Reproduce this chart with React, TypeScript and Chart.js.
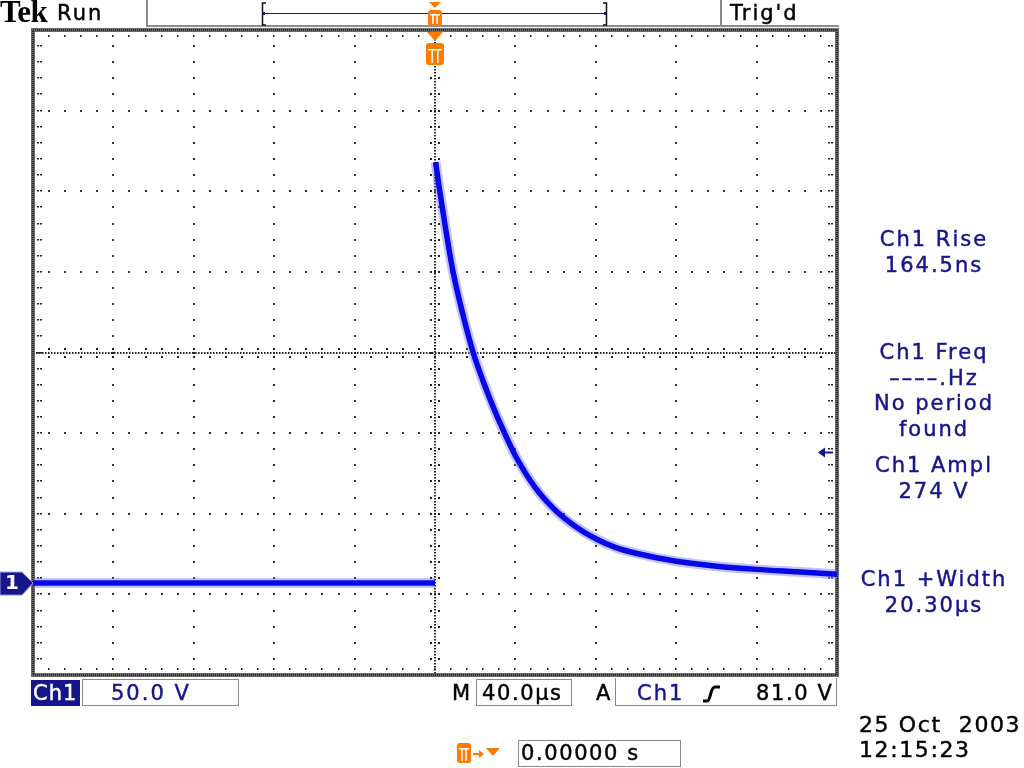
import React, { useEffect, useRef } from "react";
import { Chart, registerables } from "chart.js";

Chart.register(...registerables);

// ---- scope settings ----
const TIME_PER_DIV = 40; // µs / div
const VOLTS_PER_DIV = 50; // V / div
const H_DIVS = 10;
const V_DIVS = 8;
const GROUND_DIV = -2.86; // ground marker, divisions from screen centre
const TRIGGER_LEVEL = 81.0; // V
const TRIGGER_TIME = 0; // µs

// ---- Ch1 trace (read from the screen); null = no samples drawn on the fast edge ----
const timeUs = [-200, -100, 0, 0.15, 0.3, 2, 5, 9, 14, 19, 24, 30, 35, 40, 50, 60, 70, 80, 90, 100, 120, 140, 160, 180, 200];
const ch1Volts: (number | null)[] = [0, 0, 0, null, 261, 246, 222, 193, 166, 143, 125, 106, 92, 79, 59, 45, 35, 27.5, 22, 18.5, 13.5, 10.5, 8.5, 7, 5.5];

// ---- text read-outs ----
const measurements = [
  { top: 227, lines: ["Ch1 Rise", "164.5ns"] },
  { top: 340, lines: ["Ch1 Freq", "––––.Hz", "No period", "found"] },
  { top: 453, lines: ["Ch1 Ampl", "274 V"] },
  { top: 567, lines: ["Ch1 +Width", "20.30µs"] },
];
const statusLeft = "Run";
const statusRight = "Trig'd";
const chScale = "50.0 V";
const timeBase = "40.0µs";
const trigLevelText = "81.0 V";
const trigPosText = "0.00000 s";
const dateText = "25 Oct  2003";
const timeText = "12:15:23";

const NAVY = "#16168c";
const ORANGE = "#ff7a00";
const FONT = '"DejaVu Sans", Verdana, sans-serif';

function drawTMarker(ctx: CanvasRenderingContext2D, cx: number, top: number, triH: number, triW: number, boxW: number, boxH: number) {
  ctx.fillStyle = ORANGE;
  if (triH > 0) {
    ctx.beginPath();
    ctx.moveTo(cx - triW / 2, top);
    ctx.lineTo(cx + triW / 2, top);
    ctx.lineTo(cx, top + triH);
    ctx.closePath();
    ctx.fill();
  }
  const by = top + triH + (triH > 0 ? 2 : 0);
  const bx = cx - boxW / 2;
  const r = 3;
  ctx.beginPath();
  ctx.moveTo(bx + r, by);
  ctx.lineTo(bx + boxW - r, by);
  ctx.quadraticCurveTo(bx + boxW, by, bx + boxW, by + r);
  ctx.lineTo(bx + boxW, by + boxH - r);
  ctx.quadraticCurveTo(bx + boxW, by + boxH, bx + boxW - r, by + boxH);
  ctx.lineTo(bx + r, by + boxH);
  ctx.quadraticCurveTo(bx, by + boxH, bx, by + boxH - r);
  ctx.lineTo(bx, by + r);
  ctx.quadraticCurveTo(bx, by, bx + r, by);
  ctx.fill();
  ctx.fillStyle = "#ffffff";
  const capH = Math.max(3, Math.round(boxH * 0.26));
  ctx.fillRect(bx + 2, by + capH, boxW - 4, 1.5);
  ctx.fillRect(cx - boxW * 0.2, by + capH, 1.5, boxH - capH - 2);
  ctx.fillRect(cx + boxW * 0.2 - 1.5, by + capH, 1.5, boxH - capH - 2);
}

const graticulePlugin = {
  id: "graticule",
  beforeDatasetsDraw(chart: any) {
    const { ctx, chartArea: a } = chart;
    const xs = chart.scales.x;
    const ys = chart.scales.y;
    const xMin = (-H_DIVS / 2) * TIME_PER_DIV;
    const yMin = (-V_DIVS / 2 - GROUND_DIV) * VOLTS_PER_DIV;
    const px = (i: number) => Math.round(xs.getPixelForValue(xMin + (i * TIME_PER_DIV) / 5));
    const py = (j: number) => Math.round(ys.getPixelForValue(yMin + (j * VOLTS_PER_DIV) / 5));
    const NX = H_DIVS * 5;
    const NY = V_DIVS * 5;
    ctx.save();
    ctx.fillStyle = "#333333";
    for (let d = 1; d < H_DIVS; d++) {
      if (d === H_DIVS / 2) continue;
      const x = px(d * 5);
      for (let j = 1; j < NY; j++) ctx.fillRect(x - 1, py(j) - 1, 2, 2);
    }
    for (let d = 1; d < V_DIVS; d++) {
      if (d === V_DIVS / 2) continue;
      const y = py(d * 5);
      for (let i = 1; i < NX; i++) ctx.fillRect(px(i) - 1, y - 1, 2, 2);
    }
    const cx = px(NX / 2);
    const cy = py(NY / 2);
    ctx.fillStyle = "#222222";
    for (let y = a.top; y < a.bottom; y += 3) ctx.fillRect(cx - 1, y, 2, 1.5);
    for (let x = a.left; x < a.right; x += 3) ctx.fillRect(x, cy - 1, 1.5, 2);
    for (let j = 1; j < NY; j++) {
      const y = py(j);
      ctx.fillRect(cx - 5, y - 1, 2, 2);
      ctx.fillRect(cx + 3, y - 1, 2, 2);
    }
    for (let i = 1; i < NX; i++) {
      const x = px(i);
      ctx.fillRect(x - 1, cy - 5, 2, 2);
      ctx.fillRect(x - 1, cy + 3, 2, 2);
    }
    for (let j = 1; j < NY; j++) {
      const y = py(j);
      ctx.fillRect(a.left + 4, y - 1, 2, 1.5);
      ctx.fillRect(a.left + 7, y - 1, 2, 1.5);
      ctx.fillRect(a.right - 6, y - 1, 2, 1.5);
      ctx.fillRect(a.right - 9, y - 1, 2, 1.5);
    }
    for (let i = 1; i < NX; i++) {
      const x = px(i);
      ctx.fillRect(x - 1, a.top + 5, 1.5, 2);
      ctx.fillRect(x - 1, a.bottom - 7, 1.5, 2);
    }
    ctx.strokeStyle = "#6a6a6a";
    ctx.lineWidth = 4;
    ctx.strokeRect(a.left, a.top, a.right - a.left, a.bottom - a.top);
    ctx.strokeStyle = "#1a1a1a";
    ctx.lineWidth = 1.5;
    ctx.setLineDash([1, 1]);
    ctx.strokeRect(a.left, a.top, a.right - a.left, a.bottom - a.top);
    ctx.setLineDash([]);
    ctx.restore();
  },
  afterDraw(chart: any) {
    const { ctx, chartArea: a } = chart;
    const xs = chart.scales.x;
    const ys = chart.scales.y;
    ctx.save();
    ctx.fillStyle = "#8c8c8c";
    ctx.fillRect(146, 0, 2, 27);
    ctx.fillRect(720, 0, 2, 27);
    ctx.fillRect(146, 25, a.right + 2 - 146, 2);
    ctx.strokeStyle = "#111111";
    ctx.lineWidth = 1.5;
    ctx.beginPath();
    ctx.moveTo(266, 3); ctx.lineTo(262.5, 3); ctx.lineTo(262.5, 25); ctx.lineTo(266, 25);
    ctx.moveTo(603, 3); ctx.lineTo(606.5, 3); ctx.lineTo(606.5, 25); ctx.lineTo(603, 25);
    ctx.stroke();
    ctx.strokeStyle = NAVY;
    ctx.lineWidth = 1;
    ctx.beginPath();
    ctx.moveTo(263, 13.5); ctx.lineTo(606, 13.5);
    ctx.stroke();
    ctx.fillStyle = NAVY;
    ctx.fillRect(263, 12, 2, 3);
    ctx.fillRect(604, 12, 2, 3);
    const tx = xs.getPixelForValue(TRIGGER_TIME);
    drawTMarker(ctx, tx, 2, 6, 12, 14, 16);
    drawTMarker(ctx, tx, a.top + 2, 9, 16, 18, 22);
    // ground marker
    const gy = ys.getPixelForValue(0);
    ctx.fillStyle = NAVY;
    ctx.beginPath();
    ctx.moveTo(0, gy - 11);
    ctx.lineTo(22, gy - 11);
    ctx.lineTo(a.left, gy);
    ctx.lineTo(22, gy + 12);
    ctx.lineTo(0, gy + 12);
    ctx.closePath();
    ctx.fill();
    ctx.strokeStyle = "#9a9ad8";
    ctx.lineWidth = 1;
    ctx.stroke();
    ctx.fillStyle = "#ffffff";
    ctx.font = `bold 20px ${FONT}`;
    ctx.textBaseline = "middle";
    ctx.fillText("1", 5, gy + 1);
    // trigger level arrow
    const ty = ys.getPixelForValue(TRIGGER_LEVEL);
    ctx.strokeStyle = NAVY;
    ctx.fillStyle = NAVY;
    ctx.lineWidth = 2;
    ctx.beginPath();
    ctx.moveTo(a.right - 14, ty); ctx.lineTo(a.right - 4, ty);
    ctx.stroke();
    ctx.beginPath();
    ctx.moveTo(a.right - 19, ty);
    ctx.lineTo(a.right - 12, ty - 5);
    ctx.lineTo(a.right - 12, ty + 5);
    ctx.closePath();
    ctx.fill();
    // bottom trigger-position icon
    drawTMarker(ctx, 464, 743, 0, 0, 14, 20);
    ctx.fillStyle = ORANGE;
    ctx.fillRect(473, 753, 7, 2);
    ctx.beginPath();
    ctx.moveTo(479, 750); ctx.lineTo(484, 754); ctx.lineTo(479, 758); ctx.closePath(); ctx.fill();
    ctx.beginPath();
    ctx.moveTo(486, 748); ctx.lineTo(500, 748); ctx.lineTo(493, 756); ctx.closePath(); ctx.fill();
    ctx.restore();
  },
};

const baseText = {
  font: `21px ${FONT}`,
  letterSpacing: "2px",
  WebkitTextStroke: "0.45px currentColor",
};

const txt = (left: number, top: number, text: string, color: string, extra: any = {}) => (
  <div
    style={{
      position: "absolute",
      left,
      top,
      ...baseText,
      lineHeight: "26px",
      color,
      whiteSpace: "pre",
      ...extra,
    }}
  >
    {text}
  </div>
);

export default function App() {
  const ref = useRef<HTMLCanvasElement>(null);
  useEffect(() => {
    if (!ref.current) return;
    const points = timeUs.map((t, i) => ({ x: t, y: ch1Volts[i] }));
    const chart = new Chart(ref.current, {
      type: "line",
      data: {
        datasets: [
          {
            data: points,
            borderColor: "#0808e6",
            borderWidth: 5.5,
            pointRadius: 0,
            cubicInterpolationMode: "monotone",
            spanGaps: false,
            fill: false,
          },
          {
            data: points,
            borderColor: "rgba(110,110,255,0.42)",
            borderWidth: 10,
            pointRadius: 0,
            cubicInterpolationMode: "monotone",
            spanGaps: false,
            fill: false,
          },
        ],
      },
      options: {
        responsive: false,
        animation: false,
        layout: { padding: { left: 33, top: 30, right: 187, bottom: 93 } },
        plugins: { legend: { display: false }, tooltip: { enabled: false } },
        scales: {
          x: {
            type: "linear",
            display: false,
            min: (-H_DIVS / 2) * TIME_PER_DIV,
            max: (H_DIVS / 2) * TIME_PER_DIV,
          },
          y: {
            type: "linear",
            display: false,
            min: (-V_DIVS / 2 - GROUND_DIV) * VOLTS_PER_DIV,
            max: (V_DIVS / 2 - GROUND_DIV) * VOLTS_PER_DIV,
          },
        },
      },
      plugins: [graticulePlugin],
    });
    return () => chart.destroy();
  }, []);

  return (
    <div style={{ position: "absolute", left: 0, top: 0, width: 1024, height: 768, background: "#ffffff", overflow: "hidden" }}>
      <canvas ref={ref} width={1024} height={768} style={{ position: "absolute", left: 0, top: 0 }} />
      <div style={{ position: "absolute", left: 0, top: -4, font: 'bold 31px "Liberation Serif", serif', lineHeight: "32px", color: "#000", letterSpacing: "-0.5px" }}>Tek</div>
      {txt(57, 0, statusLeft, "#000")}
      {txt(730, 0, statusRight, "#000")}
      {measurements.map((m, k) => (
        <div key={k} style={{ position: "absolute", left: 834, top: m.top, width: 200, textAlign: "center", ...baseText, lineHeight: "25.7px", color: NAVY }}>
          {m.lines.map((l, i) => (
            <div key={i}>{l}</div>
          ))}
        </div>
      ))}
      <div style={{ position: "absolute", left: 31, top: 680, width: 49, height: 26, background: NAVY }} />
      {txt(33, 680, "Ch1", "#fff", { letterSpacing: "1px" })}
      <div style={{ position: "absolute", left: 82, top: 679, width: 155, height: 25, border: "1.5px solid #8a8a8a" }} />
      {txt(111, 680, chScale, NAVY)}
      {txt(452, 680, "M", "#000", { letterSpacing: "0px" })}
      <div style={{ position: "absolute", left: 476, top: 679, width: 94, height: 25, border: "1.5px solid #8a8a8a" }} />
      {txt(482, 680, timeBase, "#000", { letterSpacing: "1.6px" })}
      {txt(596, 680, "A", "#000")}
      <div style={{ position: "absolute", left: 615, top: 678, width: 220, height: 27, borderLeft: "1.5px solid #8a8a8a", borderRight: "1.5px solid #8a8a8a", borderBottom: "1.5px solid #8a8a8a" }} />
      {txt(637, 680, "Ch1", NAVY)}
      <svg style={{ position: "absolute", left: 702, top: 684 }} width="20" height="20" viewBox="0 0 20 20">
        <path d="M1 17 L5 17 C9 17 8 3 13 3 L18 3" fill="none" stroke="#000" strokeWidth="3" />
      </svg>
      {txt(756, 680, trigLevelText, "#000", { letterSpacing: "1.6px" })}
      <div style={{ position: "absolute", left: 518, top: 740, width: 161, height: 25, border: "1.5px solid #8a8a8a" }} />
      {txt(521, 740, trigPosText, "#000", { letterSpacing: "1.6px" })}
      {txt(859, 712, dateText, "#000", { fontSize: 22, letterSpacing: "1.6px" })}
      {txt(859, 737, timeText, "#000", { fontSize: 22, letterSpacing: "1.6px" })}
    </div>
  );
}
